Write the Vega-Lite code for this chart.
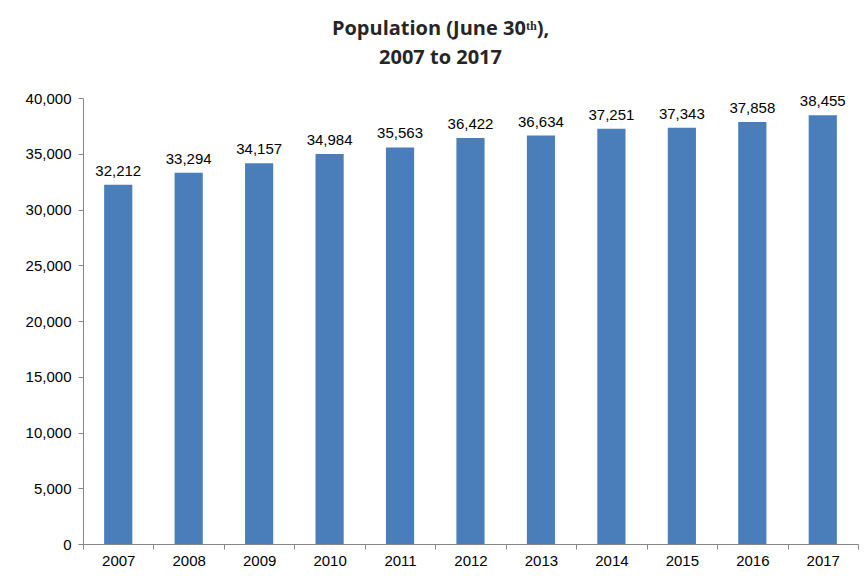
{
  "$schema": "https://vega.github.io/schema/vega-lite/v6.json",
  "autosize": "none",
  "width": 775,
  "height": 446,
  "padding": {"left": 83, "top": 98, "right": 7, "bottom": 32},
  "background": "white",
  "title": {
    "text": ["Population (June 30ᵗʰ),", "2007 to 2017"],
    "font": "Open Sans",
    "fontSize": 20,
    "fontWeight": "bold",
    "color": "#262626",
    "anchor": "middle",
    "dx": -30,
    "offset": 23,
    "lineHeight": 29
  },
  "data": {
    "values": [
      {"year": "2007", "population": 32212},
      {"year": "2008", "population": 33294},
      {"year": "2009", "population": 34157},
      {"year": "2010", "population": 34984},
      {"year": "2011", "population": 35563},
      {"year": "2012", "population": 36422},
      {"year": "2013", "population": 36634},
      {"year": "2014", "population": 37251},
      {"year": "2015", "population": 37343},
      {"year": "2016", "population": 37858},
      {"year": "2017", "population": 38455}
    ]
  },
  "encoding": {
    "x": {
      "field": "year",
      "type": "ordinal",
      "scale": {"paddingInner": 0, "paddingOuter": 0},
      "axis": {
        "title": null,
        "labelAngle": 0,
        "tickBand": "extent",
        "domainColor": "#868686",
        "tickColor": "#868686",
        "tickSize": 5,
        "labelFont": "Liberation Sans",
        "labelFontSize": 15,
        "labelColor": "#000000",
        "labelPadding": 4
      }
    },
    "y": {
      "field": "population",
      "type": "quantitative",
      "scale": {"domain": [0, 40000]},
      "axis": {
        "title": null,
        "values": [0, 5000, 10000, 15000, 20000, 25000, 30000, 35000, 40000],
        "format": ",.0f",
        "grid": false,
        "domainColor": "#868686",
        "tickColor": "#868686",
        "tickSize": 5,
        "labelFont": "Liberation Sans",
        "labelFontSize": 15,
        "labelColor": "#000000",
        "labelPadding": 7
      }
    }
  },
  "layer": [
    {
      "mark": {"type": "bar", "width": {"band": 0.4}, "color": "#4A7EBB"}
    },
    {
      "mark": {
        "type": "text",
        "baseline": "bottom",
        "dy": -6,
        "font": "Liberation Sans",
        "fontSize": 15,
        "color": "#000000"
      },
      "encoding": {
        "text": {"field": "population", "type": "quantitative", "format": ","}
      }
    }
  ],
  "config": {"view": {"stroke": null}}
}
